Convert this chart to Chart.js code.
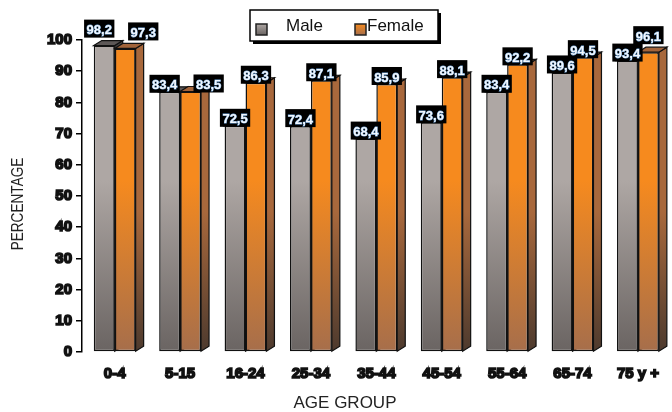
<!DOCTYPE html>
<html>
<head>
<meta charset="utf-8">
<script src="https://cdn.jsdelivr.net/npm/chart.js@4"></script>
<style>
  html, body { margin: 0; padding: 0; background: #ffffff; }
  #wrap { width: 672px; height: 412px; }
</style>
</head>
<body>
<div id="wrap"><canvas id="chart" width="672" height="412"></canvas></div>
<script>
// Share of each age group, by sex (%)
const ageGroups = ['0-4', '5-15', '16-24', '25-34', '35-44', '45-54', '55-64', '65-74', '75 y +'];
const maleValues = [98.2, 83.4, 72.5, 72.4, 68.4, 73.6, 83.4, 89.6, 93.4];
const femaleValues = [97.3, 83.5, 86.3, 87.1, 85.9, 88.1, 92.2, 94.5, 96.1];
const seriesNames = ['Male', 'Female'];
const xTitle = 'AGE GROUP';
const yTitle = 'PERCENTAGE';

// 3D extrusion of each bar
const DEPTH_X = 8;
const DEPTH_Y = 5;

const palette = {
  male:   { top: '#aea7a4', bottom: '#6a6462', side: '#4a4543', sideBottom: '#2e2a29', cap: '#5d5857' },
  female: { top: '#f68a1e', bottom: '#a66e4b', side: '#a8683c', sideBottom: '#4d3a2e', cap: '#a3643a' }
};

function frontGradient(colors) {
  return (context) => {
    const area = context.chart.chartArea;
    if (!area) return colors.top;
    const g = context.chart.ctx.createLinearGradient(0, area.top, 0, area.bottom);
    g.addColorStop(0, colors.top);
    g.addColorStop(0.45, colors.top);
    g.addColorStop(1, colors.bottom);
    return g;
  };
}

function formatValue(v) {
  return v.toFixed(1).replace('.', ',');
}

// Side and top faces, painted behind the front faces
const bar3d = {
  id: 'bar3d',
  beforeDatasetsDraw(chart) {
    const ctx = chart.ctx;
    const area = chart.chartArea;
    const metas = chart.data.datasets.map((d, i) => chart.getDatasetMeta(i));
    const n = chart.data.labels.length;
    ctx.save();
    ctx.lineWidth = 1.2;
    ctx.strokeStyle = '#111';
    for (let j = 0; j < n; j++) {
      metas.forEach((meta, i) => {
        const colors = chart.data.datasets[i].faceColors;
        const bar = meta.data[j];
        const p = bar.getProps(['x', 'y', 'base', 'width'], true);
        const l = p.x - p.width / 2, r = p.x + p.width / 2;
        const sg = ctx.createLinearGradient(0, area.top, 0, area.bottom);
        sg.addColorStop(0, colors.side);
        sg.addColorStop(0.55, colors.side);
        sg.addColorStop(1, colors.sideBottom);
        ctx.beginPath();
        ctx.moveTo(r, p.y);
        ctx.lineTo(r + DEPTH_X, p.y - DEPTH_Y);
        ctx.lineTo(r + DEPTH_X, p.base - DEPTH_Y);
        ctx.lineTo(r, p.base);
        ctx.closePath();
        ctx.fillStyle = sg;
        ctx.fill();
        ctx.stroke();
        ctx.beginPath();
        ctx.moveTo(l, p.y);
        ctx.lineTo(l + DEPTH_X, p.y - DEPTH_Y);
        ctx.lineTo(r + DEPTH_X, p.y - DEPTH_Y);
        ctx.lineTo(r, p.y);
        ctx.closePath();
        ctx.fillStyle = colors.cap;
        ctx.fill();
        ctx.stroke();
      });
    }
    ctx.restore();
  },
  // Value tags: black boxes above each bar
  afterDatasetsDraw(chart) {
    const ctx = chart.ctx;
    const n = chart.data.labels.length;
    const boxH = 18;
    ctx.save();
    ctx.font = 'bold 13px "Liberation Sans", Arial, sans-serif';
    ctx.textAlign = 'center';
    ctx.textBaseline = 'middle';
    for (let j = 0; j < n; j++) {
      const tags = chart.data.datasets.map((ds, i) => {
        const bar = chart.getDatasetMeta(i).data[j];
        const v = ds.data[j];
        const text = formatValue(v);
        const w = ctx.measureText(text).width + 5;
        let bottom = bar.y + 1;
        if (v > 95) bottom = bar.y - DEPTH_Y - 3;
        return { cx: bar.x, bottom, w, text };
      });
      const m = tags[0], f = tags[1];
      // keep the two tags of a group apart when they sit at about the same height
      if (Math.abs(m.bottom - f.bottom) < 10) {
        m.cx -= 5;
        f.cx = m.cx + 44;
      }
      tags.forEach(t => {
        let left = t.cx - t.w / 2;
        if (left + t.w > chart.width) left = chart.width - t.w;
        const top = t.bottom - boxH;
        ctx.fillStyle = '#000';
        ctx.fillRect(left, top, t.w, boxH);
        ctx.lineWidth = 0.8;
        ctx.strokeStyle = '#6fa6dc';
        ctx.strokeText(t.text, left + t.w / 2, top + boxH / 2 + 2);
        ctx.fillStyle = '#f2f8ff';
        ctx.fillText(t.text, left + t.w / 2, top + boxH / 2 + 2);
      });
    }
    ctx.restore();
  },
  afterDraw(chart) {
    const ctx = chart.ctx;
    ctx.save();
    // axis titles
    ctx.fillStyle = '#222';
    ctx.font = '17px "Liberation Sans", Arial, sans-serif';
    ctx.textAlign = 'center';
    ctx.textBaseline = 'middle';
    ctx.fillText(xTitle, 345, 403);
    ctx.save();
    ctx.translate(18, 204);
    ctx.rotate(-Math.PI / 2);
    ctx.scale(0.8, 1);
    ctx.fillText(yTitle, 0, 0);
    ctx.restore();

    // framed legend with drop shadow
    const bx = 250, by = 10, bw = 188, bh = 31;
    ctx.fillStyle = '#000';
    ctx.fillRect(bx + 3, by + 3, bw, bh);
    ctx.fillStyle = '#fff';
    ctx.fillRect(bx, by, bw, bh);
    ctx.lineWidth = 1.5;
    ctx.strokeStyle = '#000';
    ctx.strokeRect(bx, by, bw, bh);
    ctx.textAlign = 'left';
    const items = [
      { sx: 256, tx: 286, colors: palette.male, label: chart.data.datasets[0].label },
      { sx: 355, tx: 367, colors: palette.female, label: chart.data.datasets[1].label }
    ];
    items.forEach(it => {
      const sy = 24;
      const g = ctx.createLinearGradient(0, sy, 0, sy + 11);
      g.addColorStop(0, it.colors.top);
      g.addColorStop(1, it.colors.bottom);
      ctx.fillStyle = g;
      ctx.fillRect(it.sx, sy, 11, 11);
      ctx.lineWidth = 1.5;
      ctx.strokeStyle = '#222';
      ctx.strokeRect(it.sx, sy, 11, 11);
      ctx.fillStyle = '#111';
      ctx.fillText(it.label, it.tx, 26);
    });
    ctx.restore();
  }
};

const heavyTick = { family: '"Liberation Sans", Arial, sans-serif', size: 15, weight: 'bold' };

new Chart(document.getElementById('chart'), {
  type: 'bar',
  data: {
    labels: ageGroups,
    datasets: [
      {
        label: seriesNames[0],
        data: maleValues,
        backgroundColor: frontGradient(palette.male),
        faceColors: palette.male,
        borderColor: '#111',
        borderWidth: 1.5,
        borderSkipped: false
      },
      {
        label: seriesNames[1],
        data: femaleValues,
        backgroundColor: frontGradient(palette.female),
        faceColors: palette.female,
        borderColor: '#111',
        borderWidth: 1.5,
        borderSkipped: false
      }
    ]
  },
  options: {
    responsive: false,
    animation: false,
    events: [],
    layout: { padding: { top: 40, right: 0, bottom: 0, left: 0 } },
    datasets: { bar: { categoryPercentage: 0.64, barPercentage: 1.0 } },
    plugins: {
      legend: { display: false },
      tooltip: { enabled: false }
    },
    scales: {
      x: {
        grid: { display: false, drawTicks: false },
        border: { display: false },
        ticks: {
          color: '#111',
          font: heavyTick,
          textStrokeColor: '#111',
          textStrokeWidth: 1.6,
          padding: 13,
          maxRotation: 0,
          autoSkip: false
        },
        afterFit(scale) { scale.height = 60; }
      },
      y: {
        min: 0,
        max: 100,
        ticks: {
          stepSize: 10,
          color: '#111',
          font: heavyTick,
          textStrokeColor: '#111',
          textStrokeWidth: 1.6,
          padding: 4
        },
        grid: {
          display: true,
          drawOnChartArea: false,
          drawTicks: true,
          tickLength: 6,
          color: '#000',
          lineWidth: 1.5
        },
        border: { display: true, color: '#000', width: 1.5 },
        afterFit(scale) { scale.width = 82; }
      }
    }
  },
  plugins: [bar3d]
});
</script>
</body>
</html>
